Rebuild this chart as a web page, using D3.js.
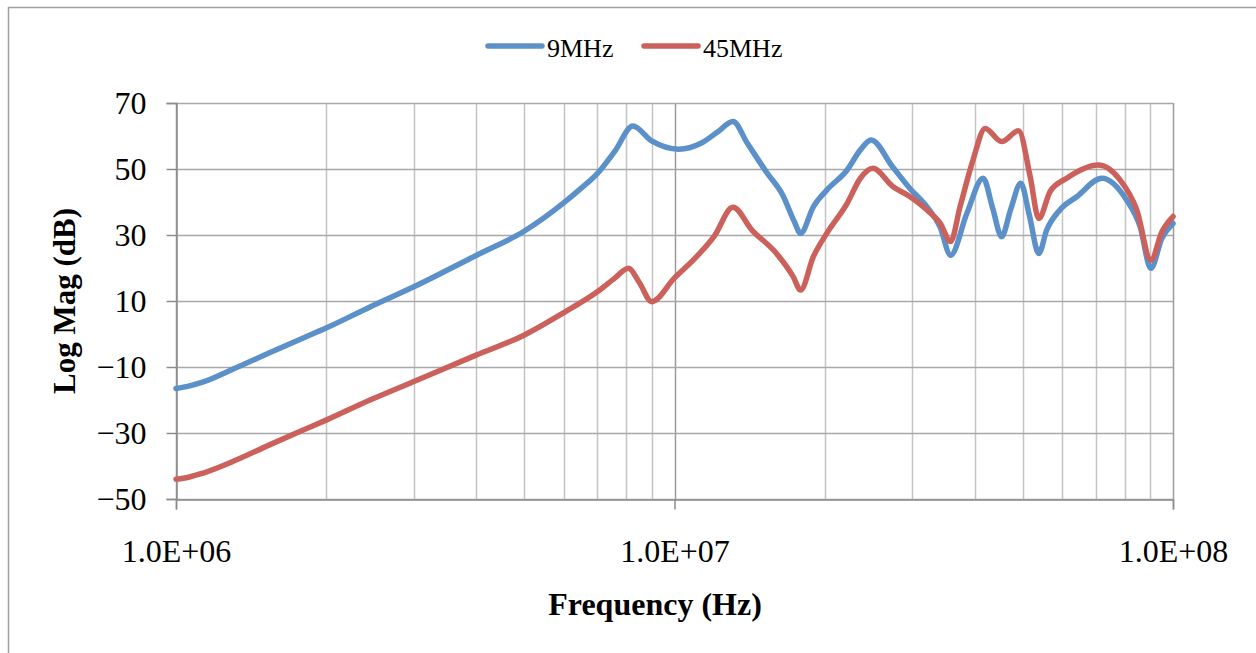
<!DOCTYPE html>
<html lang="en">

<head>
    <meta charset="UTF-8">
    <title>Log Mag</title>
    <script src="https://cdnjs.cloudflare.com/ajax/libs/d3/7.8.5/d3.min.js"></script>
</head>
<style>
    * {
        margin: 0;
        padding: 0;
    }

    body {
        background: #fff;
    }

    text {
        font-family: "Liberation Serif", "Times New Roman", serif;
        fill: #000;
    }
</style>

<body>
    <svg></svg>
</body>

</html>

<script>
    // 数据 (频率 MHz, 幅度 dB)
    const freq9 = [1.0, 1.06, 1.13, 1.32, 1.54, 1.8, 2.0, 2.45, 3.0, 4.0, 5.0, 6.0, 6.5, 7.0, 7.6, 8.25, 9.0, 10.2, 11.3, 12.2, 13.1,
        14.0, 15.3, 16.5, 17.4, 17.9, 19.0, 20.2, 22.2, 23.6, 24.8, 27.4, 29.7, 32.1, 34.1, 35.8, 38.6, 41.6, 43.5, 45.3,
        47.3, 49.5, 51.5, 53.8, 55.8, 59.3, 64.1, 72.0, 80.7, 85.9, 90.3, 95.0, 100.0]
    const mag9 = [-16.5, -15.8, -14.6, -10.2, -5.7, -1.2, 1.8, 8.2, 14.3, 23.8, 31.2, 39.8, 44.2, 48.6, 55.5, 63.0, 58.5, 56.0, 57.8, 61.2, 64.4,
        57.8, 49.0, 42.0, 34.0, 30.5, 38.6, 43.6, 49.7, 55.8, 58.8, 50.6, 44.0, 38.5, 32.4, 23.9, 36.6, 47.2, 38.0, 29.5,
        38.0, 45.7, 36.0, 24.4, 31.5, 37.6, 41.6, 47.2, 40.6, 32.5, 19.9, 29.0, 33.5]

    const freq45 = [1.0, 1.06, 1.13, 1.32, 1.54, 1.8, 2.0, 2.45, 3.0, 4.0, 5.0, 6.0, 7.0, 7.6, 8.08, 8.5, 9.0, 10.0, 11.0, 12.0, 13.1,
        14.3, 16.0, 17.3, 17.9, 19.0, 20.2, 22.2, 23.6, 25.0, 27.4, 29.7, 32.1, 34.1, 35.8, 37.4, 39.7, 42.0, 45.3, 49.0,
        51.7, 53.8, 56.7, 61.2, 70.8, 78.3, 84.6, 90.3, 95.0, 100.0]
    const mag45 = [-44.0, -43.4, -42.2, -38.2, -33.6, -29.1, -26.1, -20.0, -14.4, -6.4, -0.3, 6.5, 12.8, 17.0, 19.9, 15.6, 9.8, 17.0, 23.0, 29.5, 38.4,
        31.5, 24.5, 17.4, 13.3, 23.5, 30.5, 39.6, 47.2, 50.2, 44.7, 41.6, 37.6, 33.6, 28.0, 38.6, 52.7, 62.3, 58.3, 61.6,
        47.7, 35.0, 43.2, 47.2, 51.2, 46.7, 37.6, 22.4, 31.0, 35.6]

    const seriesNames = ['9MHz', '45MHz']
    const seriesColors = ['#5b90c8', '#cc615c']
    const yTicks = [-50, -30, -10, 10, 30, 50, 70]
    const xTicks = [1e6, 1e7, 1e8]
    const xTickLabels = ['1.0E+06', '1.0E+07', '1.0E+08']

    const svg = d3.select('svg').attr('width', 1256).attr('height', 653)

    // 外框
    svg.append('rect').attr('x', 8.5).attr('y', 7.5).attr('width', 1300).attr('height', 700)
        .attr('fill', '#fff').attr('stroke', '#a0a0a0').attr('stroke-width', 1.5)

    const pLeft = 176, pRight = 1173, pTop = 103, pBottom = 499

    const x = d3.scaleLog().domain([1e6, 1e8]).range([pLeft, pRight])
    const y = d3.scaleLinear().domain([-50, 70]).range([pBottom, pTop])

    const g = svg.append('g')

    // 竖向网格 (对数次刻度)
    g.selectAll('.vgrid').data(x.ticks()).enter().append('line')
        .attr('x1', d => Math.round(x(d)) + 0.5).attr('x2', d => Math.round(x(d)) + 0.5)
        .attr('y1', pTop).attr('y2', pBottom)
        .attr('stroke', d => xTicks.includes(d) ? '#9a9a9a' : '#c4c4c4')
        .attr('stroke-width', 1.5)

    // 横向网格
    g.selectAll('.hgrid').data(yTicks).enter().append('line')
        .attr('x1', pLeft).attr('x2', pRight)
        .attr('y1', d => Math.round(y(d)) + 0.5).attr('y2', d => Math.round(y(d)) + 0.5)
        .attr('stroke', '#a8a8a8').attr('stroke-width', 1.5)

    // y轴
    const yAxis = g.append('g').attr('transform', `translate(${pLeft + 0.5},0)`)
        .call(d3.axisLeft(y).tickValues(yTicks).tickSize(10).tickPadding(20).tickFormat(d3.format('d')))
    yAxis.select('.domain').attr('stroke', '#8c8c8c').attr('stroke-width', 1.5)
    yAxis.selectAll('.tick line').attr('stroke', '#8c8c8c').attr('stroke-width', 1.5)
    yAxis.selectAll('.tick text').attr('font-size', 32).attr('font-family', '"Liberation Serif", serif').attr('fill', '#000')

    // x轴
    const xAxis = g.append('g').attr('transform', `translate(0,${pBottom + 0.5})`)
        .call(d3.axisBottom(x).tickValues(xTicks).tickSize(10).tickPadding(30)
            .tickFormat((d, i) => xTickLabels[i]))
    xAxis.select('.domain').attr('stroke', '#8c8c8c').attr('stroke-width', 1.5)
    xAxis.selectAll('.tick line').attr('stroke', '#8c8c8c').attr('stroke-width', 1.5)
    xAxis.selectAll('.tick text').attr('font-size', 32).attr('font-family', '"Liberation Serif", serif').attr('fill', '#000')

    // 曲线
    const line = d3.line()
        .x(d => x(d[0] * 1e6))
        .y(d => y(d[1]))
        .curve(d3.curveMonotoneX)

    const series = [
        d3.zip(freq9, mag9),
        d3.zip(freq45, mag45)
    ]

    g.selectAll('.series').data(series).enter().append('path')
        .attr('d', line)
        .attr('fill', 'none')
        .attr('stroke', (d, i) => seriesColors[i])
        .attr('stroke-width', 5.5)
        .attr('stroke-linejoin', 'round')
        .attr('stroke-linecap', 'round')

    // 图例
    const legendX = [488, 644]
    const legend = svg.append('g')
    seriesNames.forEach((name, i) => {
        legend.append('line')
            .attr('x1', legendX[i]).attr('x2', legendX[i] + 54)
            .attr('y1', 46).attr('y2', 46)
            .attr('stroke', seriesColors[i]).attr('stroke-width', 5.5).attr('stroke-linecap', 'round')
        legend.append('text')
            .attr('x', legendX[i] + 59).attr('y', 57)
            .attr('font-size', 26)
            .text(name)
    })

    // 坐标轴标题
    svg.append('text')
        .attr('x', 655).attr('y', 615)
        .attr('text-anchor', 'middle')
        .attr('font-size', 32).attr('font-weight', 'bold')
        .text('Frequency (Hz)')

    svg.append('text')
        .attr('transform', 'translate(75,301) rotate(-90)')
        .attr('text-anchor', 'middle')
        .attr('font-size', 31).attr('font-weight', 'bold')
        .text('Log Mag (dB)')
</script>
